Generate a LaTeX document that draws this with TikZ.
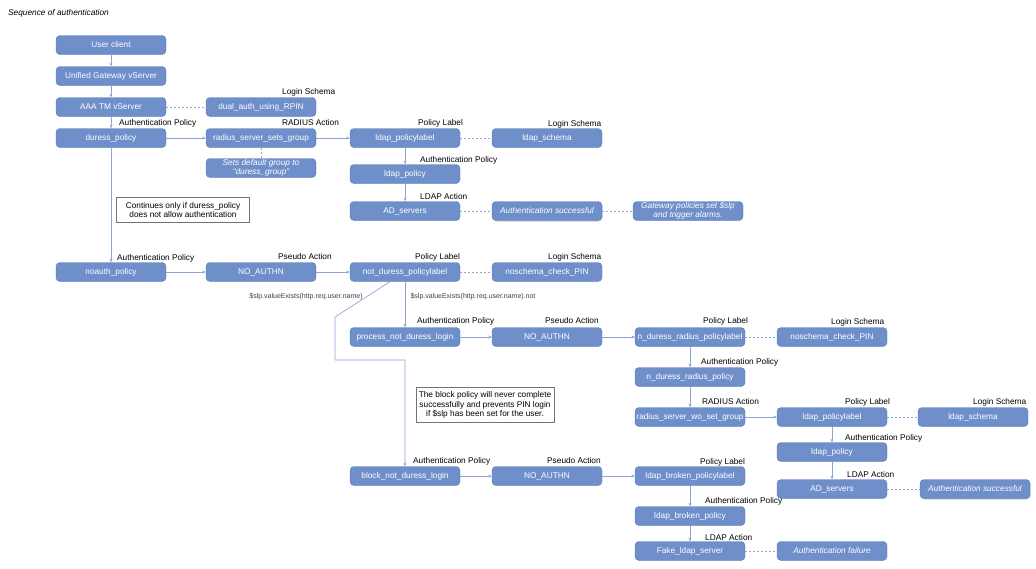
\documentclass[tikz,border=0pt]{standalone}
\usepackage{fontspec}
\setmainfont{Liberation Sans}
\usetikzlibrary{arrows.meta,shadows}
\definecolor{boxblue}{HTML}{6F8FCB}
\definecolor{boxline}{HTML}{5577B5}
\definecolor{wire}{HTML}{8CA5D2}
\begin{document}
\begin{tikzpicture}[x=1pt,y=-1pt,
    box/.style={draw=boxline,fill=boxblue,rounded corners=4pt,minimum width=110pt,minimum height=19pt,inner sep=1pt,text=white,font=\fontsize{8.3}{8.6}\selectfont},
    result/.style={box,align=center,font=\fontsize{8.3}{8.6}\selectfont\itshape},
    lifted/.style={drop shadow={shadow xshift=0.6pt,shadow yshift=-1pt,opacity=.35}},
    kind/.style={anchor=west,inner sep=0pt,font=\fontsize{8.3}{9}\selectfont},
    note/.style={draw=black!55,fill=white,align=center,inner sep=2pt,font=\fontsize{8.3}{9.5}\selectfont},
    cond/.style={inner sep=0pt,text=black!75,font=\fontsize{7}{7}\selectfont},
    flow/.style={draw=wire,line width=0.7pt,-{Stealth[length=3.5pt,width=3pt]}},
    assoc/.style={draw=wire,line width=0.6pt,dash pattern=on 2pt off 2pt}]
    \useasboundingbox (0,0) rectangle (1036,568);
    \node[kind,font=\fontsize{8.3}{9}\selectfont\itshape] (title) at (8,13) {Sequence of authentication};

    % gateway
    \node[box] (usr) at (111,45) {User client};
    \node[box] (ugw) at (111,76) {Unified Gateway vServer};
    \node[box] (aaa) at (111,107) {AAA TM vServer};
    \node[box] (rpin) at (261,107) {dual\_auth\_using\_RPIN};
    \node[kind] (rpinkind) at (282,92) {Login Schema};

    % duress check
    \node[box] (dur) at (111,138) {duress\_policy};
    \node[kind] (durkind) at (119,123) {Authentication Policy};
    \node[box] (rsg) at (261,138) {radius\_server\_sets\_group};
    \node[kind] (rsgkind) at (282,123) {RADIUS Action};
    \node[result] (dgrp) at (261,168) {Sets default group to\\``duress\_group''};
    \node[box] (lpl) at (405,138) {ldap\_policylabel};
    \node[kind] (lplkind) at (418,123) {Policy Label};
    \node[box] (lsch) at (547,138) {ldap\_schema};
    \node[kind] (lschkind) at (548,124) {Login Schema};
    \node[box] (lpol) at (405,174) {ldap\_policy};
    \node[kind] (lpolkind) at (420,160) {Authentication Policy};
    \node[box] (ads) at (405,211) {AD\_servers};
    \node[kind] (adskind) at (420,197) {LDAP Action};
    \node[result,lifted] (ok) at (547,211) {Authentication successful};
    \node[result] (gwp) at (688,211) {Gateway policies set \$slp\\and trigger alarms.};
    \node[note,minimum width=133pt,minimum height=25pt] (cont) at (183,210) {Continues only if duress\_policy\\does not allow authentication};

    % no duress
    \node[box] (noa) at (111,272) {noauth\_policy};
    \node[kind] (noakind) at (117,258) {Authentication Policy};
    \node[box] (na1) at (261,272) {NO\_AUTHN};
    \node[kind] (na1kind) at (278,257) {Pseudo Action};
    \node[box] (ndpl) at (405,272) {not\_duress\_policylabel};
    \node[kind] (ndplkind) at (415,257) {Policy Label};
    \node[box] (nsc1) at (547,272) {noschema\_check\_PIN};
    \node[kind] (nsc1kind) at (548,257) {Login Schema};
    \node[cond] (cset) at (306,297) {\$slp.valueExists(http.req.user.name)};
    \node[cond] (cnot) at (473,297) {\$slp.valueExists(http.req.user.name).not};

    % pin login
    \node[box] (pndl) at (405,337) {process\_not\_duress\_login};
    \node[kind] (pndlkind) at (417,321) {Authentication Policy};
    \node[box] (na2) at (547,337) {NO\_AUTHN};
    \node[kind] (na2kind) at (545,321) {Pseudo Action};
    \node[box] (nrpl) at (690,337) {n\_duress\_radius\_policylabel};
    \node[kind] (nrplkind) at (703,321) {Policy Label};
    \node[box] (nsc2) at (832,337) {noschema\_check\_PIN};
    \node[kind] (nsc2kind) at (831,322) {Login Schema};
    \node[box] (nrp) at (690,377) {n\_duress\_radius\_policy};
    \node[kind] (nrpkind) at (701,362) {Authentication Policy};
    \node[box] (rwo) at (690,417) {radius\_server\_wo\_set\_group};
    \node[kind] (rwokind) at (702,402) {RADIUS Action};
    \node[box] (lpl2) at (832,417) {ldap\_policylabel};
    \node[kind] (lpl2kind) at (845,402) {Policy Label};
    \node[box] (lsch2) at (973,417) {ldap\_schema};
    \node[kind] (lsch2kind) at (973,402) {Login Schema};
    \node[box] (lpol2) at (832,452) {ldap\_policy};
    \node[kind] (lpol2kind) at (845,438) {Authentication Policy};
    \node[box] (ads2) at (832,489) {AD\_servers};
    \node[kind] (ads2kind) at (847,475) {LDAP Action};
    \node[result,lifted] (ok2) at (975,489) {Authentication successful};

    % block
    \node[note,minimum width=138pt,minimum height=35pt] (blk) at (485,405) {The block policy will never complete\\successfully and prevents PIN login\\if \$slp has been set for the user.};
    \node[box] (bndl) at (405,476) {block\_not\_duress\_login};
    \node[kind] (bndlkind) at (413,461) {Authentication Policy};
    \node[box] (na3) at (547,476) {NO\_AUTHN};
    \node[kind] (na3kind) at (547,461) {Pseudo Action};
    \node[box] (lbpl) at (690,476) {ldap\_broken\_policylabel};
    \node[kind] (lbplkind) at (700,462) {Policy Label};
    \node[box] (lbp) at (690,516) {ldap\_broken\_policy};
    \node[kind] (lbpkind) at (705,501) {Authentication Policy};
    \node[box] (fls) at (690,551) {Fake\_ldap\_server};
    \node[kind] (flskind) at (705,538) {LDAP Action};
    \node[result] (fail) at (832,551) {Authentication failure};

    % connectors
    \draw[flow] (usr) -- (ugw);
    \draw[flow] (ugw) -- (aaa);
    \draw[flow] (aaa) -- (dur);
    \draw[assoc] (aaa) -- (rpin);
    \draw[flow] (dur) -- (rsg);
    \draw[assoc] (rsg) -- (dgrp);
    \draw[flow] (rsg) -- (lpl);
    \draw[assoc] (lpl) -- (lsch);
    \draw[flow] (lpl) -- (lpol);
    \draw[flow] (lpol) -- (ads);
    \draw[assoc] (ads) -- (ok) -- (gwp);
    \draw[flow] (dur) -- (noa);
    \draw[flow] (noa) -- (na1);
    \draw[flow] (na1) -- (ndpl);
    \draw[assoc] (ndpl) -- (nsc1);
    \draw[flow] (ndpl) -- (pndl);
    \coordinate (b1) at (335,317);
    \coordinate (b2) at (405,360);
    \draw[flow] ([xshift=-15pt]ndpl.south) -- (b1) |- (b2) -- (bndl);
    \draw[flow] (pndl) -- (na2);
    \draw[flow] (na2) -- (nrpl);
    \draw[assoc] (nrpl) -- (nsc2);
    \draw[flow] (nrpl) -- (nrp);
    \draw[flow] (nrp) -- (rwo);
    \draw[flow] (rwo) -- (lpl2);
    \draw[assoc] (lpl2) -- (lsch2);
    \draw[flow] (lpl2) -- (lpol2);
    \draw[flow] (lpol2) -- (ads2);
    \draw[assoc] (ads2) -- (ok2);
    \draw[flow] (bndl) -- (na3);
    \draw[flow] (na3) -- (lbpl);
    \draw[flow] (lbpl) -- (lbp);
    \draw[flow] (lbp) -- (fls);
    \draw[assoc] (fls) -- (fail);
\end{tikzpicture}
\end{document}
